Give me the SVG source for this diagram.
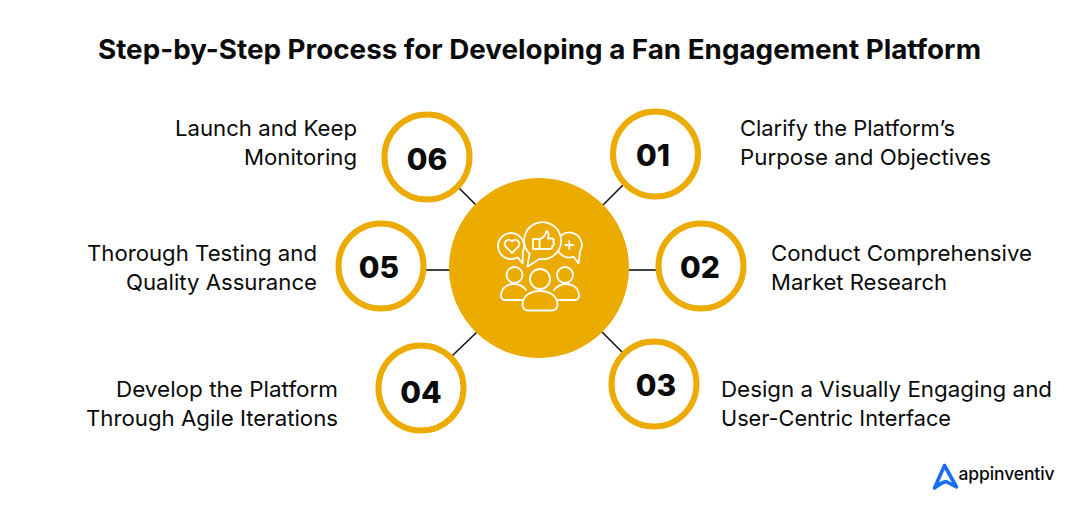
<svg xmlns="http://www.w3.org/2000/svg" width="1080" height="515" viewBox="0 0 1080 515">
<style>
text{font-family:"Inter","Liberation Sans",sans-serif;fill:#0b0b0b}
.t{font-size:22px;font-weight:400}
.n{font-size:30px;font-weight:800;text-anchor:middle}
.r{fill:#fff;stroke:#ebab00;stroke-width:6}
.c line{stroke:#111;stroke-width:1.6}
.i *{fill:none;stroke:#fff;stroke-width:1.8;stroke-linejoin:round;stroke-linecap:round}
.i .b{fill:#ebab00}
</style>
<rect width="1080" height="515" fill="#fff"/>
<text id="title" x="98" y="59" font-size="27" font-weight="700" textLength="883" lengthAdjust="spacingAndGlyphs">Step-by-Step Process for Developing a Fan Engagement Platform</text>
<g id="connectors" class="c">
<line x1="458" y1="187" x2="477" y2="206"/>
<line x1="623" y1="185" x2="602" y2="206"/>
<line x1="626" y1="270" x2="658" y2="270"/>
<line x1="424" y1="270" x2="452" y2="270"/>
<line x1="477" y1="332" x2="452" y2="356"/>
<line x1="601" y1="331" x2="623" y2="353"/>
</g>
<g id="hub">
<circle cx="539" cy="268" r="90" fill="#ebab00"/>
<g class="i">
<path class="b" d="M522.800,251.500 A13,13 0 1 0 517.500,257.300 L522.700,263.300 Z"/>
<path d="M512,253 L505.500,246.500 A4,4 0 0 1 512,241.500 A4,4 0 0 1 518.500,246.500 Z"/>
<path class="b" d="M580.100,251.250 A12.500,12.500 0 1 0 573.600,256.700 L578.500,263.500 Z"/>
<path d="M569.300,241 v8 M565.300,245 h8"/>
<path class="b" d="M539.500,258.900 A18.500,18.500 0 1 0 529.600,253.800 L527.300,266.700 Z"/>
<path d="M533,239 h6.500 v10 h-6.500 Z M539.500,239 C544,238 546,234 546,232 L547,231 C549,232 549,236 548,238.500 h4 c2,0 2.500,2 1,3 c1.500,1 1.500,3.500 -0.500,4 c0,2 -1,3.500 -2.500,3.500 h-10.500"/>
<circle cx="514.500" cy="275" r="8"/>
<circle cx="565" cy="275" r="8"/>
<path d="M522,300 H505 A4,4 0 0 1 501,295 C501.500,288 507,284 514,284 C519,284 523,286 526,290"/>
<path d="M558,300 H575 A4,4 0 0 0 579,295 C578.500,288 573,284 566,284 C561,284 557,286 554,290"/>
<circle cx="540" cy="279" r="10"/>
<path d="M528,310.500 H552 A5.500,5.500 0 0 0 557.500,305 C557.500,296 550,291 540,291 C530,291 522.500,296 522.500,305 A5.500,5.500 0 0 0 528,310.500 Z"/>
</g>
</g>
<g id="n01"><circle class="r" cx="655.500" cy="154" r="42.500"/><text class="n" x="653" y="166">01</text></g>
<g id="n02"><circle class="r" cx="701" cy="266" r="42.500"/><text class="n" x="700" y="278">02</text></g>
<g id="n03"><circle class="r" cx="654" cy="384" r="42.500"/><text class="n" x="656" y="396">03</text></g>
<g id="n04"><circle class="r" cx="421" cy="388" r="42.500"/><text class="n" x="421" y="403">04</text></g>
<g id="n05"><circle class="r" cx="381" cy="266" r="42.500"/><text class="n" x="379" y="278">05</text></g>
<g id="n06"><circle class="r" cx="427" cy="157" r="42.500"/><text class="n" x="427" y="170">06</text></g>
<g id="l01"><text class="t" x="740" y="136" textLength="215" lengthAdjust="spacingAndGlyphs">Clarify the Platform’s</text><text class="t" x="740" y="165" textLength="251" lengthAdjust="spacingAndGlyphs">Purpose and Objectives</text></g>
<g id="l02"><text class="t" x="771" y="261" textLength="261" lengthAdjust="spacingAndGlyphs">Conduct Comprehensive</text><text class="t" x="771" y="290" textLength="176" lengthAdjust="spacingAndGlyphs">Market Research</text></g>
<g id="l03"><text class="t" x="721" y="397" textLength="331" lengthAdjust="spacingAndGlyphs">Design a Visually Engaging and</text><text class="t" x="721" y="426" textLength="230" lengthAdjust="spacingAndGlyphs">User-Centric Interface</text></g>
<g id="l04"><text class="t" x="116" y="397" textLength="222" lengthAdjust="spacingAndGlyphs">Develop the Platform</text><text class="t" x="86" y="426" textLength="252" lengthAdjust="spacingAndGlyphs">Through Agile Iterations</text></g>
<g id="l05"><text class="t" x="87" y="261" textLength="230" lengthAdjust="spacingAndGlyphs">Thorough Testing and</text><text class="t" x="126" y="290" textLength="191" lengthAdjust="spacingAndGlyphs">Quality Assurance</text></g>
<g id="l06"><text class="t" x="175" y="136" textLength="182" lengthAdjust="spacingAndGlyphs">Launch and Keep</text><text class="t" x="244" y="165" textLength="113" lengthAdjust="spacingAndGlyphs">Monitoring</text></g>
<g id="logo">
<path d="M934.500,488 L944.500,465.500 L956.500,487 L946,481.500 Q940,483 934.500,488 Z" fill="none" stroke="#1a6ff0" stroke-width="3.600" stroke-linejoin="round"/>
<text x="958.500" y="480" font-size="17.500" font-weight="500" textLength="96" lengthAdjust="spacing">appinventiv</text>
</g>
</svg>
